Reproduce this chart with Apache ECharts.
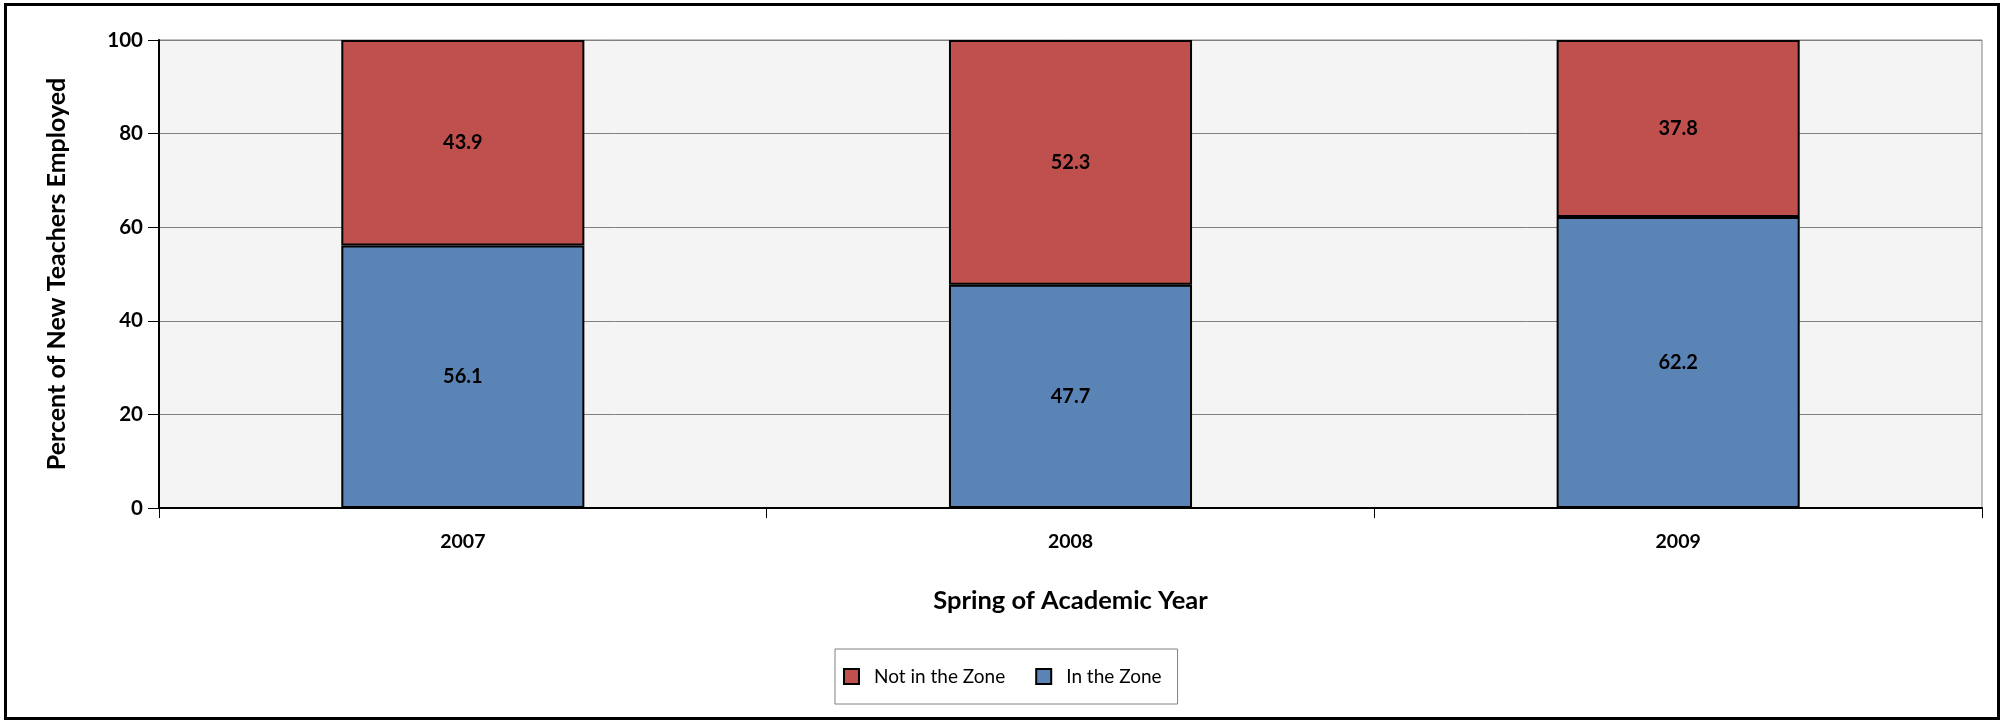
<!DOCTYPE html>
<html>
<head>
<meta charset="utf-8">
<script src="https://cdn.jsdelivr.net/npm/echarts@6/dist/echarts.min.js"></script>
<style>
html,body{margin:0;padding:0;background:#fff;}
#c{width:2009px;height:721px;}
</style>
</head>
<body>
<div id="c"></div>
<script>
const categories = ['2007', '2008', '2009'];
const inZone = [56.1, 47.7, 62.2];
const notInZone = [43.9, 52.3, 37.8];
const yTicks = [0, 20, 40, 60, 80, 100];

const FONT = 'Lato';
const chart = echarts.init(document.getElementById('c'));
const labelStyle = {
  show: true, position: 'inside', color: '#000', fontFamily: FONT,
  fontWeight: 'bold', fontSize: 20,
  formatter: p => p.value.toFixed(1)
};
chart.setOption({
  animation: false,
  backgroundColor: '#fff',
  textStyle: { fontFamily: FONT },
  graphic: [{
    type: 'rect', z: 100, silent: true,
    shape: { x: 5.5, y: 4.5, width: 1993, height: 714 },
    style: { fill: 'none', stroke: '#000', lineWidth: 3 }
  }],
  grid: {
    left: 159, right: 27, top: 40, bottom: 213,
    show: true, backgroundColor: '#F4F4F4', borderColor: '#808080', borderWidth: 1
  },
  legend: {
    data: ['Not in the Zone', 'In the Zone'],
    left: 835, top: 649,
    orient: 'horizontal',
    padding: [18, 16, 18, 8],
    itemWidth: 15, itemHeight: 15, itemGap: 30,
    borderColor: '#808080', borderWidth: 1,
    icon: 'rect',
    textStyle: { fontFamily: FONT, fontSize: 19, color: '#000', padding: [0, 0, 0, 10] }
  },
  xAxis: {
    type: 'category', data: categories,
    name: 'Spring of Academic Year', nameLocation: 'middle', nameGap: 80,
    nameTextStyle: { fontFamily: FONT, fontWeight: 'bold', fontSize: 25.5, color: '#000' },
    axisLine: { show: true, lineStyle: { color: '#000', width: 2 } },
    axisTick: { show: true, length: 10, interval: 0, alignWithLabel: false, lineStyle: { color: '#000', width: 1 } },
    axisLabel: { fontFamily: FONT, fontWeight: 'bold', fontSize: 19.5, color: '#000', margin: 24 },
    splitLine: { show: false }
  },
  yAxis: {
    type: 'value', min: 0, max: 100, interval: 20,
    name: 'Percent of New Teachers Employed', nameLocation: 'middle', nameGap: 90,
    nameTextStyle: { fontFamily: FONT, fontWeight: 'bold', fontSize: 25, color: '#000' },
    axisLine: { show: true, lineStyle: { color: '#000', width: 2 } },
    axisTick: { show: true, length: 11, lineStyle: { color: '#000', width: 1 } },
    axisLabel: { fontFamily: FONT, fontWeight: 'bold', fontSize: 20.5, color: '#000', margin: 16,
      formatter: v => yTicks.includes(v) ? String(v) : '' },
    splitLine: { show: true, lineStyle: { color: '#808080', width: 1 } }
  },
  series: [
    {
      name: 'In the Zone', type: 'bar', stack: 'total', data: inZone, barWidth: '40%',
      itemStyle: { color: '#5B84B6', borderColor: '#000', borderWidth: 2 },
      label: labelStyle
    },
    {
      name: 'Not in the Zone', type: 'bar', stack: 'total', data: notInZone, barWidth: '40%',
      itemStyle: { color: '#C0504D', borderColor: '#000', borderWidth: 2 },
      label: labelStyle
    }
  ]
});
</script>
</body>
</html>
